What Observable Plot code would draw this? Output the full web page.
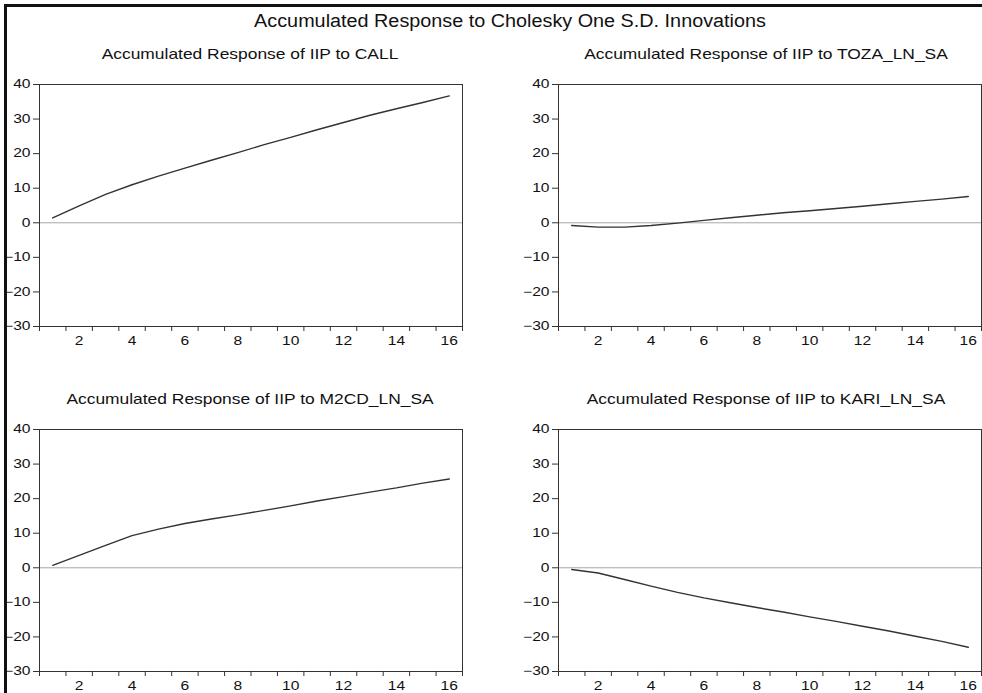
<!DOCTYPE html>
<html>
<head>
<meta charset="utf-8">
<script src="https://cdn.jsdelivr.net/npm/d3@7"></script>
<script src="https://cdn.jsdelivr.net/npm/@observablehq/plot@0.6"></script>
<style>
  html, body { margin: 0; padding: 0; background: #fff; }
  #root { position: relative; width: 982px; height: 693px; overflow: hidden; background: #fff;
          font-family: "Liberation Sans", Arial, sans-serif; color: #111; }
  .frameBorder { position: absolute; left: 4px; top: 4px; width: 990px; height: 700px;
                 border-left: 3px solid #111; border-top: 3px solid #111; }
  .ttl { position: absolute; white-space: nowrap; transform-origin: 50% 50%; }
  .panel { position: absolute; }
</style>
</head>
<body>
<div id="root"><div class="frameBorder"></div></div>
<script>
// ---- data ----
const periods = [1, 2, 3, 4, 5, 6, 7, 8, 9, 10, 11, 12, 13, 14, 15, 16];
const xTickLabels = [2, 4, 6, 8, 10, 12, 14, 16];
const yTicks = [-30, -20, -10, 0, 10, 20, 30, 40];

const mainTitle = "Accumulated Response to Cholesky One S.D. Innovations";
const panelTitles = [
  "Accumulated Response of IIP to CALL",
  "Accumulated Response of IIP to TOZA_LN_SA",
  "Accumulated Response of IIP to M2CD_LN_SA",
  "Accumulated Response of IIP to KARI_LN_SA"
];
const respCALL = [1.4, 4.9, 8.2, 11.0, 13.5, 15.8, 18.1, 20.3, 22.6, 24.7, 26.9, 29.0, 31.1, 33.0, 34.8, 36.7];
const respTOZA = [-0.8, -1.25, -1.25, -0.8, -0.1, 0.7, 1.45, 2.2, 2.9, 3.5, 4.15, 4.8, 5.5, 6.2, 6.85, 7.6];
const respM2CD = [0.7, 3.6, 6.5, 9.3, 11.2, 12.8, 14.1, 15.3, 16.6, 17.9, 19.3, 20.6, 21.9, 23.1, 24.5, 25.7];
const respKARI = [-0.5, -1.5, -3.4, -5.3, -7.1, -8.7, -10.1, -11.5, -12.8, -14.2, -15.5, -16.9, -18.3, -19.8, -21.3, -23.0];

const series = [respCALL, respTOZA, respM2CD, respKARI];

// ---- layout ----
const root = document.getElementById("root");
const boundaries = periods.map(p => p - 0.5).concat([periods[periods.length - 1] + 0.5]);

function stretchText(svg, k) {
  svg.querySelectorAll('g[aria-label$="tick label"] text').forEach(t => {
    let tr = t.getAttribute("transform") || "";
    const x = t.getAttribute("x");
    if (x != null && isFinite(+x) && +x !== 0) {
      tr = `translate(${+x},0) ` + tr;
      t.removeAttribute("x");
    }
    t.setAttribute("transform", (tr + ` scale(${k},1)`).trim());
  });
}

function addTitle(text, cx, top, size, k) {
  const d = document.createElement("div");
  d.className = "ttl";
  d.textContent = text;
  d.style.left = cx + "px";
  d.style.top = top + "px";
  d.style.fontSize = size + "px";
  d.style.lineHeight = size + "px";
  d.style.transform = `translateX(-50%) scaleX(${k})`;
  root.appendChild(d);
}

function panel(values, left, top, width, ml, mr) {
  const data = periods.map((p, i) => ({p, v: values[i]}));
  const svg = Plot.plot({
    width, height: 282,
    marginLeft: ml, marginRight: mr, marginTop: 10, marginBottom: 30,
    style: {fontSize: "12px", fontFamily: "'Liberation Sans', Arial, sans-serif", color: "#111", background: "transparent"},
    x: {domain: [boundaries[0], boundaries[boundaries.length - 1]]},
    y: {domain: [yTicks[0], yTicks[yTicks.length - 1]]},
    marks: [
      Plot.ruleY([0], {stroke: "#a8a8a8", strokeWidth: 1}),
      Plot.line(data, {x: "p", y: "v", stroke: "#333", strokeWidth: 1.4}),
      Plot.frame({stroke: "#333", strokeWidth: 1}),
      Plot.axisY({ticks: yTicks, tickSize: 6, tickPadding: 3, stroke: "#333", fill: "#111", label: null}),
      Plot.axisX({ticks: boundaries, tickSize: 5, tickFormat: () => "", stroke: "#333", label: null}),
      Plot.axisX({ticks: xTickLabels, tickSize: 0, tickPadding: 10, fill: "#111", label: null})
    ]
  });
  stretchText(svg, 1.3);
  svg.classList.add("panel");
  svg.style.left = left + "px";
  svg.style.top = top + "px";
  root.appendChild(svg);
}

// main title
addTitle(mainTitle, 510, 11.5, 18, 1.1);
// panel titles
addTitle(panelTitles[0], 250, 45.6, 15, 1.16);
addTitle(panelTitles[1], 766, 45.6, 15, 1.16);
addTitle(panelTitles[2], 250, 390.6, 15, 1.16);
addTitle(panelTitles[3], 766, 390.6, 15, 1.16);

// panels: plot areas x 39-462 / 558-981, y 84-326 / 429-671
panel(series[0], 0, 74, 492, 39, 30);
panel(series[1], 491, 74, 491, 67, 1);
panel(series[2], 0, 419, 492, 39, 30);
panel(series[3], 491, 419, 491, 67, 1);
</script>
</body>
</html>
